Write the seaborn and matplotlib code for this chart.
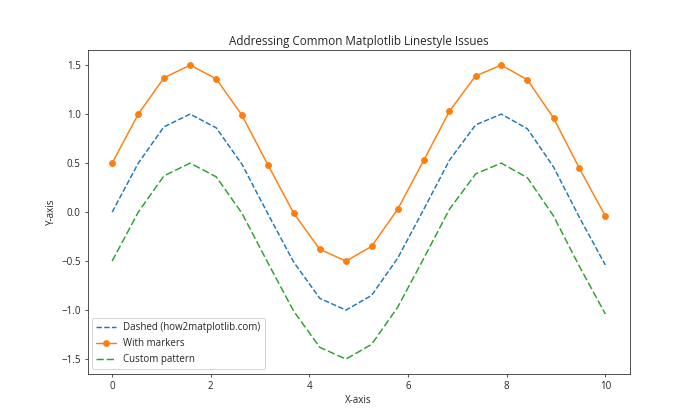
import numpy as np
import matplotlib
matplotlib.use('Agg')
import matplotlib.pyplot as plt
import pandas as pd
import seaborn as sns

# values
x_vals = [0.00, 0.53, 1.05, 1.58, 2.11, 2.63, 3.16, 3.68, 4.21, 4.74,
          5.26, 5.79, 6.32, 6.84, 7.37, 7.89, 8.42, 8.95, 9.47, 10.00]
dashed_vals = [0.00, 0.50, 0.87, 1.00, 0.86, 0.49, -0.02, -0.51, -0.88, -1.00,
               -0.85, -0.47, 0.03, 0.53, 0.89, 1.00, 0.85, 0.46, -0.05, -0.54]
marker_vals = [0.50, 1.00, 1.37, 1.50, 1.36, 0.99, 0.48, -0.01, -0.38, -0.50,
               -0.35, 0.03, 0.53, 1.03, 1.39, 1.50, 1.35, 0.96, 0.45, -0.04]
custom_vals = [-0.50, 0.00, 0.37, 0.50, 0.36, -0.01, -0.52, -1.01, -1.38, -1.50,
               -1.35, -0.97, -0.47, 0.03, 0.39, 0.50, 0.35, -0.04, -0.55, -1.04]
labels = ['Dashed (how2matplotlib.com)', 'With markers', 'Custom pattern']

sns.set_style('ticks')
plt.rcParams['font.family'] = ['Open Sans', 'DejaVu Sans']
plt.rcParams['font.size'] = 10

df = pd.DataFrame({'x': x_vals, 'dashed': dashed_vals, 'marker': marker_vals, 'custom': custom_vals})

fig, ax = plt.subplots(figsize=(10, 6), dpi=70)
sns.lineplot(data=df, x='x', y='dashed', ax=ax, color='#1f77b4', linestyle='--', label=labels[0])
sns.lineplot(data=df, x='x', y='marker', ax=ax, color='#ff7f0e', marker='o', markersize=6,
             markeredgewidth=1, markeredgecolor='#ff7f0e', label=labels[1])
sns.lineplot(data=df, x='x', y='custom', ax=ax, color='#2ca02c', label=labels[2])
ax.lines[-1].set_dashes([5, 2])
ax.legend(loc='lower left', fontsize=10)

ax.set_title('Addressing Common Matplotlib Linestyle Issues', fontsize=12)
ax.set_xlabel('X-axis')
ax.set_ylabel('Y-axis')
fig.subplots_adjust(left=0.125, right=0.9, top=0.88, bottom=0.11)
fig.savefig('out.png', dpi=70)
